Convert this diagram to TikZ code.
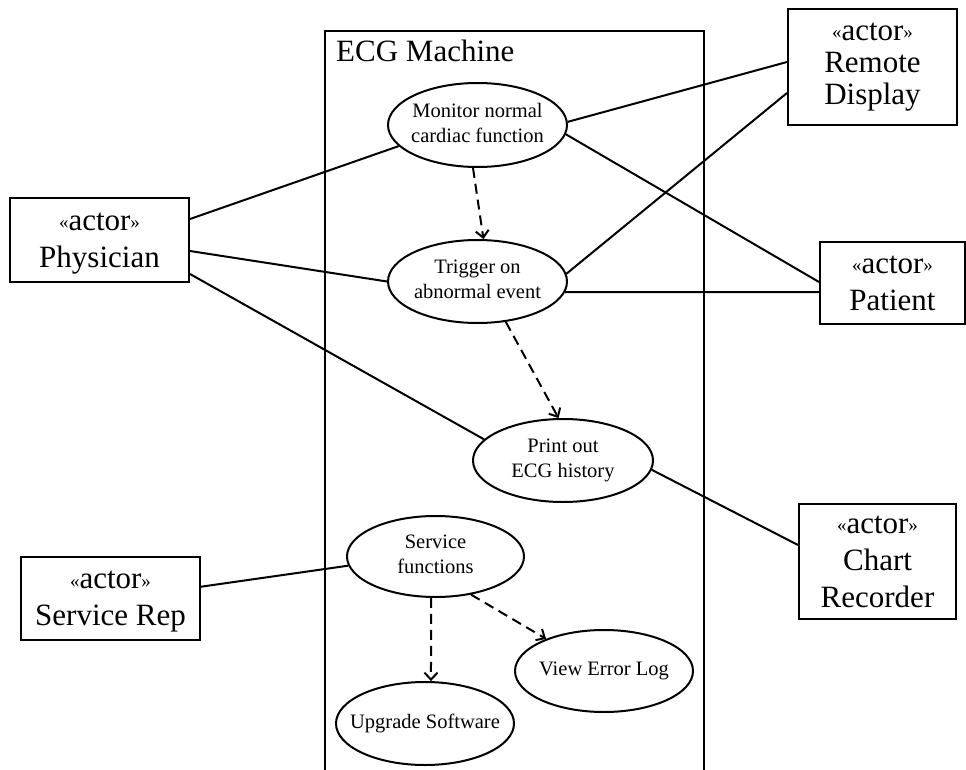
\documentclass[tikz,border=0pt]{standalone}
\usepackage{fontspec}
\setmainfont{Liberation Serif}
\usetikzlibrary{arrows.meta,calc,shapes.geometric}
\newcommand\actorfont{\fontsize{31}{37}\selectfont}
\newcommand\ucfont{\fontsize{20.5}{24.5}\selectfont}
\newcommand\guil[1]{{\fontsize{19}{19}\selectfont\raisebox{1.5pt}{#1}}}
\newcommand\stereo{\guil{«}actor\guil{»}}
\newcommand\nodepth[1]{\raisebox{0pt}[\height][0pt]{#1}}
\begin{document}
\begin{tikzpicture}[x=1pt,y=-1pt,
  actor/.style={draw, line width=2pt, rectangle, align=center, inner sep=0pt, font=\actorfont},
  usecase/.style={draw, line width=2pt, ellipse, align=center, inner xsep=-30pt, inner ysep=-10pt, font=\ucfont},
  assoc/.style={line width=2pt},
  dep/.style={line width=2pt, dash pattern=on 10pt off 6pt, -{Straight Barb[length=7pt,width=13pt]}}]
\useasboundingbox (0,0) rectangle (966,770);
\clip (0,0) rectangle (966,770);
% system boundary
\node[draw, line width=2pt, rectangle, inner sep=0pt, outer sep=0pt, minimum width=379pt, minimum height=800pt] (sys) at (514.5,431) {};
\node[anchor=base west, inner sep=0pt, font=\actorfont] (title) at (336,62) {ECG Machine};
% actors
\node[actor, minimum width=179pt, minimum height=84pt] (phys) at (99.5,240) {\stereo\\\nodepth{Physician}};
\node[actor, minimum width=169pt, minimum height=116pt, font=\fontsize{31}{32}\selectfont] (remote) at (872.5,67) {\stereo\\Remote\\Display};
\node[actor, minimum width=145pt, minimum height=82pt] (patient) at (892.5,283) {\stereo\\Patient};
\node[actor, minimum width=157pt, minimum height=115pt] (chart) at (877.5,561.5) {\stereo\\Chart\\Recorder};
\node[actor, minimum width=179pt, minimum height=83pt] (srep) at (110.5,598.5) {\stereo\\\nodepth{Service Rep}};
% use cases
\node[usecase, minimum width=179pt, minimum height=84pt] (mon) at (477.5,125) {Monitor normal\\cardiac function\vphantom{y}};
\node[usecase, minimum width=179pt, minimum height=83pt] (trig) at (477.5,281.5) {Trigger on\\abnormal event\vphantom{y}};
\node[usecase, minimum width=180pt, minimum height=83pt] (print) at (563,460.5) {Print out\\ECG history};
\node[usecase, minimum width=177pt, minimum height=81pt] (serv) at (435.5,556.5) {Service\\functions\vphantom{y}};
\node[usecase, minimum width=178pt, minimum height=82pt] (view) at (604,671) {View Error Log};
\node[usecase, minimum width=178pt, minimum height=83pt] (upg) at (425,723.5) {Upgrade Software};
% associations
\draw[assoc] ($(phys.east)+(0,-21)$) -- (mon.195);
\draw[assoc] ($(phys.east)+(0,11)$) -- (trig.180);
\draw[assoc] ($(phys.east)+(0,34)$) -- (print.165.5);
\draw[assoc] (mon.2) -- ($(remote.west)+(0,-5)$);
\draw[assoc] (mon.-6) -- ($(patient.west)+(0,-1)$);
\draw[assoc] (trig.5.6) -- ($(remote.west)+(0,26)$);
\draw[assoc] (trig.-7) -- ($(patient.west)+(0,9)$);
\draw[assoc] (print.-6.6) -- ($(chart.west)+(0,-16.5)$);
\draw[assoc] ($(srep.east)+(0,-11.8)$) -- (serv.186.6);
% dependencies
\draw[dep] (mon.-96) -- (trig.82.5);
\draw[dep] (trig.-55.8) -- (print.96.7);
\draw[dep] (serv.-96.3) -- (upg.82.5);
\draw[dep] (serv.-47.9) -- (view.151.5);
\end{tikzpicture}
\end{document}
